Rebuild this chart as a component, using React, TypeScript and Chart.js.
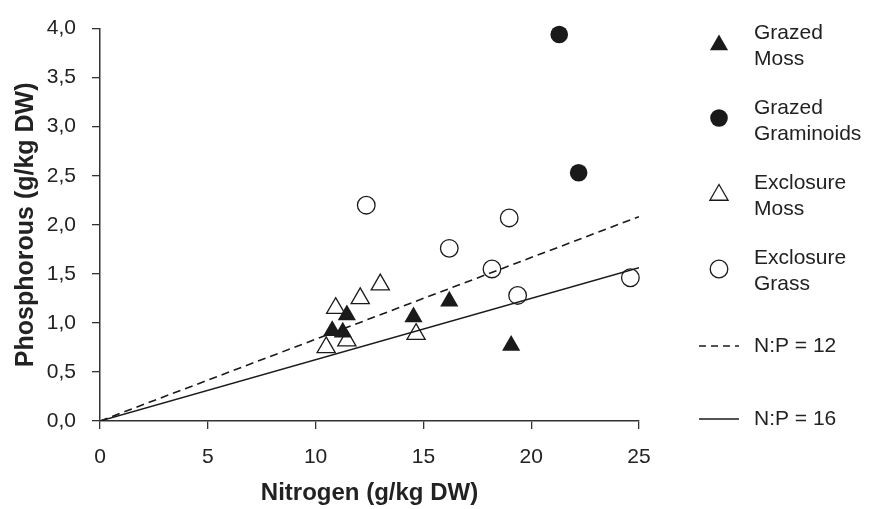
import React, { useEffect, useRef } from 'react';
import { Chart, registerables } from 'chart.js';

Chart.register(...registerables);

// ---- data ----
const grazedMossN = [16.2, 14.54, 11.45, 10.77, 11.26, 19.07];
const grazedMossP = [1.22, 1.06, 1.08, 0.92, 0.905, 0.77];

const grazedGramN = [21.3, 22.2];
const grazedGramP = [3.94, 2.53];

const exclMossN = [13.0, 12.07, 10.93, 11.45, 10.49, 14.66];
const exclMossP = [1.39, 1.25, 1.15, 0.82, 0.75, 0.885];

const exclGrassN = [12.35, 18.98, 16.2, 18.18, 19.37, 24.6];
const exclGrassP = [2.2, 2.07, 1.76, 1.55, 1.28, 1.46];

const np12N = [0, 25];
const np12P = [0, 2.083];
const np16N = [0, 25];
const np16P = [0, 1.5625];

const xTicks = [0, 5, 10, 15, 20, 25];
const yTicks = [0, 0.5, 1, 1.5, 2, 2.5, 3, 3.5, 4];
const yTickLabels = ['0,0', '0,5', '1,0', '1,5', '2,0', '2,5', '3,0', '3,5', '4,0'];

const xTitle = 'Nitrogen (g/kg DW)';
const yTitle = 'Phosphorous (g/kg DW)';

const legendLabels = [
  ['Grazed', 'Moss'],
  ['Grazed', 'Graminoids'],
  ['Exclosure', 'Moss'],
  ['Exclosure', 'Grass'],
  ['N:P = 12'],
  ['N:P = 16'],
];
const legendKinds = ['triFilled', 'circFilled', 'triOpen', 'circOpen', 'dash', 'solid'];

const INK = '#1a1a1a';
const TEXT = '#222222';
const FONT = '"Liberation Sans", Arial, Helvetica, sans-serif';

const zip = (xs: number[], ys: number[]) => xs.map((x, i) => ({ x, y: ys[i] }));

function drawTriangle(ctx: CanvasRenderingContext2D, x: number, y: number, r: number, filled: boolean) {
  const s = Math.sin(Math.PI / 3) * r;
  ctx.beginPath();
  ctx.moveTo(x, y - r);
  ctx.lineTo(x + s, y + r / 2);
  ctx.lineTo(x - s, y + r / 2);
  ctx.closePath();
  if (filled) {
    ctx.fillStyle = INK;
    ctx.fill();
  } else {
    ctx.fillStyle = '#fff';
    ctx.fill();
    ctx.lineWidth = 1.3;
    ctx.strokeStyle = INK;
    ctx.stroke();
  }
}

function drawCircle(ctx: CanvasRenderingContext2D, x: number, y: number, r: number, filled: boolean) {
  ctx.beginPath();
  ctx.arc(x, y, r, 0, Math.PI * 2);
  if (filled) {
    ctx.fillStyle = INK;
    ctx.fill();
  } else {
    ctx.fillStyle = '#fff';
    ctx.fill();
    ctx.lineWidth = 1.3;
    ctx.strokeStyle = INK;
    ctx.stroke();
  }
}

const legendPlugin = {
  id: 'customLegend',
  afterDraw(chart: any) {
    const ctx: CanvasRenderingContext2D = chart.ctx;
    const area = chart.chartArea;
    const mx = area.right + 80; // marker centre
    const tx = area.right + 115; // text start
    const markerY = [45, 118, 195, 269, 346, 419];
    const textY = [33, 108, 183, 258, 346, 419];
    ctx.save();
    ctx.font = `21px ${FONT}`;
    ctx.textBaseline = 'middle';
    ctx.textAlign = 'left';
    legendLabels.forEach((lines, i) => {
      const kind = legendKinds[i];
      const my = markerY[i];
      if (kind === 'triFilled') drawTriangle(ctx, mx, my, 10.5, true);
      else if (kind === 'triOpen') drawTriangle(ctx, mx, my, 10.5, false);
      else if (kind === 'circFilled') drawCircle(ctx, mx, my, 8.8, true);
      else if (kind === 'circOpen') drawCircle(ctx, mx, my, 8.8, false);
      else {
        ctx.beginPath();
        ctx.setLineDash(kind === 'dash' ? [7, 5] : []);
        ctx.lineWidth = 1.4;
        ctx.strokeStyle = INK;
        ctx.moveTo(mx - 20, my);
        ctx.lineTo(mx + 20, my);
        ctx.stroke();
        ctx.setLineDash([]);
      }
      ctx.fillStyle = TEXT;
      lines.forEach((t, j) => {
        ctx.fillText(t, tx, textY[i] + j * 26);
      });
    });
    ctx.restore();
  },
};

export default function App() {
  const ref = useRef<HTMLCanvasElement>(null);

  useEffect(() => {
    if (!ref.current) return;
    Chart.defaults.font.family = FONT;
    const chart = new Chart(ref.current, {
      type: 'scatter',
      data: {
        datasets: [
          {
            label: 'N:P = 12',
            data: zip(np12N, np12P),
            showLine: true,
            borderColor: INK,
            borderWidth: 1.6,
            borderDash: [8, 5],
            pointRadius: 0,
            fill: false,
            order: 0,
          },
          {
            label: 'N:P = 16',
            data: zip(np16N, np16P),
            showLine: true,
            borderColor: INK,
            borderWidth: 1.5,
            pointRadius: 0,
            fill: false,
            order: 0,
          },
          {
            label: 'Grazed Moss',
            data: zip(grazedMossN, grazedMossP),
            pointStyle: 'triangle',
            pointRadius: 10.5,
            backgroundColor: INK,
            borderColor: INK,
            borderWidth: 0,
            clip: false,
            order: 1,
          },
          {
            label: 'Grazed Graminoids',
            data: zip(grazedGramN, grazedGramP),
            pointStyle: 'circle',
            pointRadius: 8.8,
            backgroundColor: INK,
            borderColor: INK,
            borderWidth: 0,
            clip: false,
            order: 1,
          },
          {
            label: 'Exclosure Moss',
            data: zip(exclMossN, exclMossP),
            pointStyle: 'triangle',
            pointRadius: 10.5,
            backgroundColor: '#ffffff',
            borderColor: INK,
            borderWidth: 1.3,
            clip: false,
            order: 2,
          },
          {
            label: 'Exclosure Grass',
            data: zip(exclGrassN, exclGrassP),
            pointStyle: 'circle',
            pointRadius: 8.8,
            backgroundColor: '#ffffff',
            borderColor: INK,
            borderWidth: 1.3,
            clip: false,
            order: 2,
          },
        ],
      },
      options: {
        animation: false,
        responsive: true,
        maintainAspectRatio: false,
        layout: { padding: { left: 0, top: 22, right: 233, bottom: 0 } },
        plugins: {
          legend: { display: false },
          tooltip: { enabled: false },
        },
        scales: {
          x: {
            type: 'linear',
            min: 0,
            max: 25,
            afterBuildTicks: (s: any) => {
              s.ticks = xTicks.map((v) => ({ value: v }));
            },
            afterFit: (s: any) => {
              s.height = 88;
            },
            ticks: {
              font: { size: 21 },
              color: TEXT,
              padding: 16,
              maxRotation: 0,
              autoSkip: false,
            },
            grid: {
              drawOnChartArea: false,
              drawTicks: true,
              tickLength: 8,
              color: '#333',
              lineWidth: 1.3,
            },
            border: { display: true, color: '#333', width: 1.5 },
            title: {
              display: true,
              text: xTitle,
              color: TEXT,
              font: { size: 24, weight: 'bold' },
              padding: { top: 0, bottom: 1 },
            },
          },
          y: {
            type: 'linear',
            min: 0,
            max: 4,
            afterBuildTicks: (s: any) => {
              s.ticks = yTicks.map((v) => ({ value: v }));
            },
            afterFit: (s: any) => {
              s.width = 100;
            },
            ticks: {
              font: { size: 21 },
              color: TEXT,
              padding: 16,
              autoSkip: false,
              callback: (v: any) => {
                const i = yTicks.indexOf(Number(v));
                return i >= 0 ? yTickLabels[i] : '';
              },
            },
            grid: {
              drawOnChartArea: false,
              drawTicks: true,
              tickLength: 8,
              color: '#333',
              lineWidth: 1.3,
            },
            border: { display: true, color: '#333', width: 1.5 },
            title: {
              display: true,
              text: yTitle,
              color: TEXT,
              font: { size: 25, weight: 'bold' },
              padding: { top: 11, bottom: 0 },
            },
          },
        },
      },
      plugins: [legendPlugin],
    } as any);
    return () => chart.destroy();
  }, []);

  return (
    <div style={{ position: 'fixed', left: 0, top: 0, width: 872, height: 509, background: '#fff' }}>
      <canvas ref={ref} />
    </div>
  );
}
